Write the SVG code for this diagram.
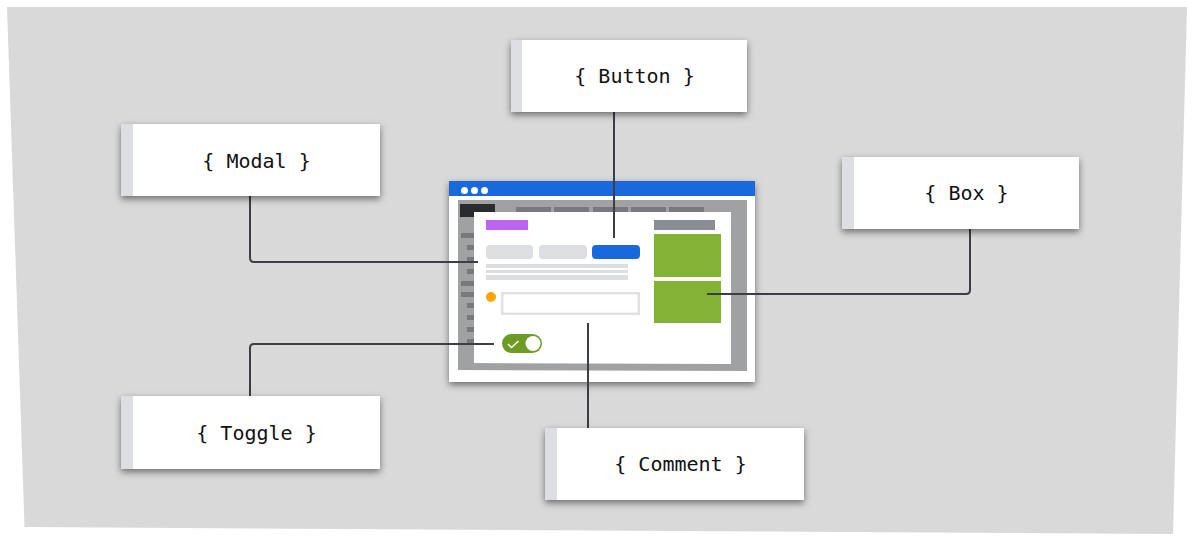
<svg xmlns="http://www.w3.org/2000/svg" width="1200" height="540" viewBox="0 0 1200 540">
<defs>
<filter id="sh" x="-10%" y="-20%" width="120%" height="150%"><feDropShadow dx="0" dy="3" stdDeviation="3.500" flood-color="#000" flood-opacity="0.5"/></filter>
</defs>
<style>
.card{fill:#fff;filter:url(#sh)}
.tab{fill:#dddee2}
.lab{font-family:"DejaVu Sans Mono","Liberation Mono",monospace;font-size:20px;fill:#111114;text-anchor:middle}
.nav{fill:#77797d}
.con{fill:none;stroke:#3d3e44;stroke-width:2}
.ln{fill:#dddee2}
</style>
<polygon points="7,7 1187,7 1173,534 24.500,527" fill="#d9d9d9"/>
<g id="mockup">
<rect x="449" y="181" width="306" height="201" class="card"/>
<rect x="449" y="181" width="306" height="15" fill="#1a69dc"/>
<circle cx="464.500" cy="190.500" r="3.500" fill="#fff"/><circle cx="474.500" cy="190.500" r="3.500" fill="#fff"/><circle cx="484.500" cy="190.500" r="3.500" fill="#fff"/>
<polygon points="458,200 747,200 747,371 458,370" fill="#a0a1a3"/>
<rect x="460" y="204" width="35" height="13" fill="#2a2b2f"/>
<rect class="nav" x="516" y="207" width="35" height="6"/><rect class="nav" x="554" y="207" width="35" height="6"/><rect class="nav" x="593" y="207" width="35" height="6"/><rect class="nav" x="631" y="207" width="35" height="6"/><rect class="nav" x="669" y="207" width="35" height="6"/>
<rect class="nav" x="461" y="233" width="14" height="5"/><rect class="nav" x="467" y="245" width="8" height="5"/><rect class="nav" x="467" y="257" width="8" height="5"/><rect class="nav" x="467" y="269" width="8" height="5"/><rect class="nav" x="461" y="281" width="14" height="5"/><rect class="nav" x="461" y="292" width="14" height="5"/><rect class="nav" x="467" y="303" width="8" height="5"/><rect class="nav" x="467" y="315" width="8" height="5"/><rect class="nav" x="467" y="327" width="8" height="5"/><rect class="nav" x="467" y="339" width="8" height="5"/>
<polygon points="474,212 731,212 731,364 474,363" fill="#fff"/>
<rect x="486" y="220" width="42" height="10" fill="#bd65f1"/>
<rect class="tab" x="486" y="245" width="47" height="14" rx="4"/><rect class="tab" x="539" y="245" width="48" height="14" rx="4"/><rect x="592" y="245" width="48" height="14" rx="4" fill="#1a69dc"/>
<rect class="ln" x="486" y="264" width="142" height="4"/><rect class="ln" x="486" y="270" width="142" height="3"/><rect class="ln" x="486" y="275" width="142" height="5"/>
<circle cx="491" cy="297" r="5" fill="#ffa400"/>
<rect x="502.200" y="293.200" width="136.600" height="20.600" fill="#fff" stroke="#e0e1e6" stroke-width="2.500"/>
<rect x="654" y="220" width="61" height="10" fill="#8b8d96"/>
<rect x="654" y="234" width="67" height="43" fill="#82b336"/><rect x="654" y="281" width="67" height="42" fill="#82b336"/>
<rect x="502" y="334" width="40" height="19" rx="9.500" fill="#6c9c26"/>
<circle cx="533" cy="343.500" r="7.500" fill="#fff"/>
<path d="M508 344l3.500 3.500 7-6.500" fill="none" stroke="#fff" stroke-width="1.500"/>
</g>
<g id="connectors">
<path class="con" d="M250 196V258Q250 262 254 262H478"/>
<path class="con" d="M614 112V238"/>
<path class="con" d="M970 229V290Q970 294 966 294H707"/>
<path class="con" d="M250 396V348Q250 344 254 344H494"/>
<path class="con" d="M588 428V323"/>
</g>
<g id="node-button"><rect x="511" y="40" width="236" height="72" class="card"/><rect x="511" y="40" width="11" height="72" class="tab"/><text class="lab" x="634.500" y="83">{ Button }</text></g>
<g id="node-modal"><rect x="121" y="124" width="259" height="72" class="card"/><rect x="121" y="124" width="12" height="72" class="tab"/><text class="lab" x="256.500" y="168">{ Modal }</text></g>
<g id="node-box"><rect x="842" y="157" width="237" height="72" class="card"/><rect x="842" y="157" width="12" height="72" class="tab"/><text class="lab" x="966.500" y="200">{ Box }</text></g>
<g id="node-toggle"><rect x="121" y="396" width="259" height="73" class="card"/><rect x="121" y="396" width="12" height="73" class="tab"/><text class="lab" x="256.500" y="440">{ Toggle }</text></g>
<g id="node-comment"><rect x="545" y="428" width="259" height="72" class="card"/><rect x="545" y="428" width="12" height="72" class="tab"/><text class="lab" x="680.500" y="471">{ Comment }</text></g>
</svg>
